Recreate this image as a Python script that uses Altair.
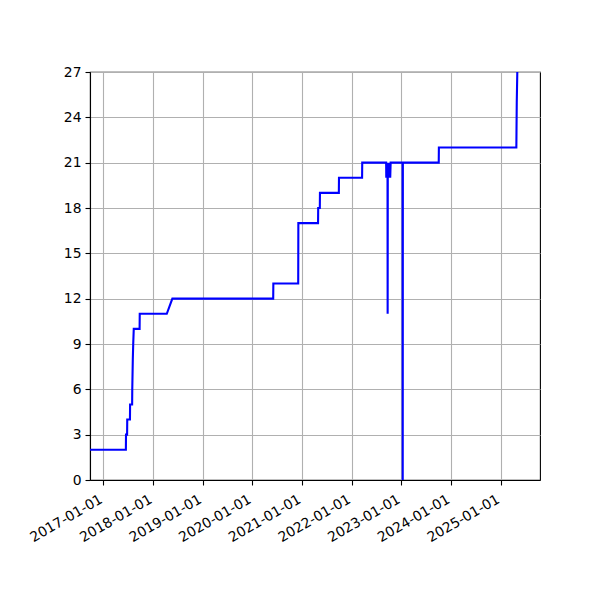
import altair as alt
import pandas as pd

dates = [
    "2016-09-24", "2017-06-15", "2017-06-16", "2017-06-24", "2017-06-25",
    "2017-07-15", "2017-07-16", "2017-07-31", "2017-08-01", "2017-08-05",
    "2017-08-08", "2017-08-12", "2017-09-24", "2017-09-25", "2018-04-12",
    "2018-05-23", "2020-06-03", "2020-06-04", "2020-12-04", "2020-12-05",
    "2021-04-29", "2021-04-30", "2021-05-12", "2021-05-13", "2021-09-29",
    "2021-09-30", "2022-03-19", "2022-03-20",
    "2022-09-12", "2022-09-13", "2022-09-16", "2022-09-19", "2022-09-22",
    "2022-09-23", "2022-09-24", "2022-09-27", "2022-09-30", "2022-10-03",
    "2022-10-06", "2022-10-09", "2022-10-12", "2022-10-15",
    "2023-01-11", "2023-01-12", "2023-01-13",
    "2023-10-04", "2023-10-05",
    "2025-04-27", "2025-04-28", "2025-04-30", "2025-05-04",
]
values = [
    2, 2, 3, 3, 4,
    4, 5, 5, 6, 8,
    9, 10, 10, 11, 11,
    12, 12, 13, 13, 17,
    17, 18, 18, 19, 19,
    20, 20, 21,
    21, 20, 21, 20, 21,
    11, 20, 21, 20, 21,
    20, 21, 20, 21,
    21, 0, 21,
    21, 22,
    22, 23, 25, 27,
]

y_ticks = [0, 3, 6, 9, 12, 15, 18, 21, 24, 27]
x_tick_years = list(range(2017, 2026))

df = pd.DataFrame({"date": dates, "value": values, "i": list(range(len(dates)))})

FONT = "DejaVu Sans"

line = alt.Chart(df).mark_line(color="#0000ff", strokeWidth=2.1, clip=True).encode(
    x=alt.X(
        "date:T",
        scale=alt.Scale(
            type="utc",
            domain=[
                alt.DateTime(year=2016, month=9, date=24, utc=True),
                alt.DateTime(year=2025, month=10, date=18, utc=True),
            ],
        ),
        axis=alt.Axis(
            values=[alt.DateTime(year=y, month=1, date=1, utc=True) for y in x_tick_years],
            format="%Y-%m-%d",
            labelAngle=-30,
            labelAlign="right",
            labelBaseline="top",
            labelOffset=-6,
            labelPadding=7,
            title=None,
        ),
    ),
    y=alt.Y(
        "value:Q",
        scale=alt.Scale(domain=[0, 27], nice=False, zero=False),
        axis=alt.Axis(values=y_ticks, title=None, labelPadding=4),
    ),
    order="i:Q",
)

chart = line.properties(
    width=450,
    height=408,
    autosize=alt.AutoSizeParams(type="none"),
    padding={"left": 82, "top": 64, "right": 50, "bottom": 110},
).configure_view(
    stroke="black", strokeWidth=1.1
).configure_axis(
    grid=True,
    gridColor="#b0b0b0",
    gridWidth=1.1,
    domainColor="black",
    domainWidth=1.1,
    tickColor="black",
    tickWidth=1.1,
    tickSize=5,
    labelFont=FONT,
    labelFontSize=13.9,
    labelColor="black",
    labelFlush=False,
    labelOverlap=False,
)

chart.save("out.html", embed_options={"renderer": "svg", "actions": False})
